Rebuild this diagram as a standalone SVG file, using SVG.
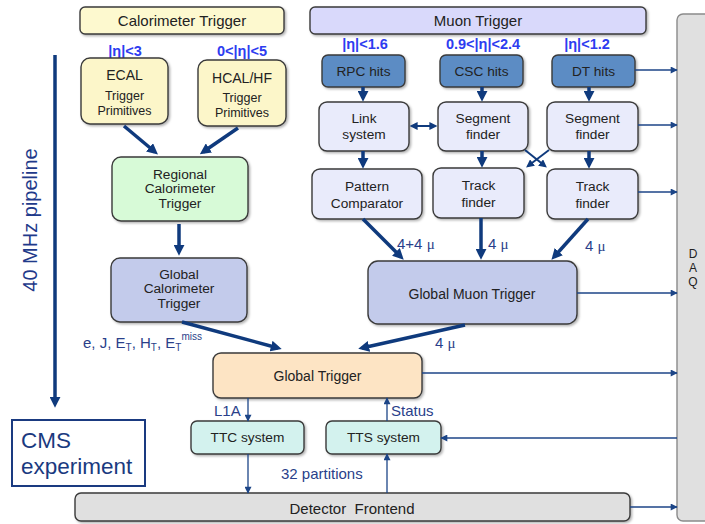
<svg xmlns="http://www.w3.org/2000/svg" width="705" height="524" viewBox="0 0 705 524">
<style>
  text { font-family: "Liberation Sans", Arial, sans-serif; fill: #222; }
  .box { stroke: #3a3a3a; stroke-width: 1.4; filter: url(#sh); }
  .t13 { font-size: 13.7px; text-anchor: middle; }
  .t12 { font-size: 12.5px; text-anchor: middle; }
  .t14 { font-size: 14px; text-anchor: middle; }
  .t15 { font-size: 15px; text-anchor: middle; }
  .eta { font-size: 14.5px; font-weight: bold; fill: #2d3cf0; text-anchor: middle; }
  .lbl { font-size: 15px; fill: #2a3f8a; }
  .mu { font-family: "Liberation Serif", serif; }
  .thick { stroke: #0f3a7d; stroke-width: 3.5; fill: none; marker-end: url(#ah); }
  .mid { stroke: #0f3a7d; stroke-width: 2; fill: none; marker-end: url(#am); }
  .thin { stroke: #1c4587; stroke-width: 1.3; fill: none; marker-end: url(#at); }
</style>
<defs>
  <filter id="sh" x="-10%" y="-10%" width="125%" height="135%">
    <feDropShadow dx="1.5" dy="1.5" stdDeviation="1" flood-color="#000" flood-opacity="0.3"/>
  </filter>
  <marker id="ah" viewBox="0 0 10 10" markerWidth="11" markerHeight="11" refX="6.5" refY="5" orient="auto" markerUnits="userSpaceOnUse">
    <path d="M0,0 L10,5 L0,10 z" fill="#0f3a7d"/>
  </marker>
  <marker id="am" viewBox="0 0 10 10" markerWidth="8" markerHeight="8" refX="7" refY="5" orient="auto-start-reverse" markerUnits="userSpaceOnUse">
    <path d="M0,0 L10,5 L0,10 z" fill="#0f3a7d"/>
  </marker>
  <marker id="at" viewBox="0 0 10 10" markerWidth="8" markerHeight="7" refX="9" refY="5" orient="auto" markerUnits="userSpaceOnUse">
    <path d="M0,0 L10,5 L0,10 z" fill="#1c4587"/>
  </marker>
</defs>

<g id="daq">
  <rect x="677" y="14" width="40" height="507" rx="6" fill="#e0e0e0" stroke="#8a8a8a" stroke-width="1.4"/>
  <text x="693" y="258" style="font-size:12px; text-anchor:middle">D</text>
  <text x="693" y="272" style="font-size:12px; text-anchor:middle">A</text>
  <text x="693" y="286" style="font-size:12px; text-anchor:middle">Q</text>
</g>

<g id="pipeline">
  <text transform="translate(37,220) rotate(-90)" style="font-size:20px; fill:#1f3a8a; text-anchor:middle">40 MHz pipeline</text>
</g>

<g id="cms">
  <rect x="12" y="420" width="133" height="66" fill="#fff" stroke="#1a3a80" stroke-width="2"/>
  <text x="21" y="448" style="font-size:22.5px; fill:#1a3a80">CMS</text>
  <text x="21" y="474" style="font-size:22.5px; fill:#1a3a80">experiment</text>
</g>

<g id="calo-title">
  <rect class="box" x="80" y="7" width="204" height="27" rx="5" fill="#fdf9cf"/>
  <text x="182" y="26" class="t15">Calorimeter Trigger</text>
</g>
<g id="muon-title">
  <rect class="box" x="310" y="7" width="336" height="27" rx="5" fill="#d9d9fb"/>
  <text x="478" y="26" class="t15">Muon Trigger</text>
</g>

<g id="eta-labels">
  <text x="125" y="56" class="eta">|η|&lt;3</text>
  <text x="242" y="56" class="eta">0&lt;|η|&lt;5</text>
  <text x="365" y="49" class="eta">|η|&lt;1.6</text>
  <text x="483" y="49" class="eta">0.9&lt;|η|&lt;2.4</text>
  <text x="587" y="49" class="eta">|η|&lt;1.2</text>
</g>

<g id="ecal">
  <rect class="box" x="81" y="58" width="87" height="66" rx="9" fill="#fcf6c9"/>
  <text x="124.5" y="80" class="t14">ECAL</text>
  <text x="124.5" y="100" class="t12">Trigger</text>
  <text x="124.5" y="115" class="t12">Primitives</text>
</g>
<g id="hcal">
  <rect class="box" x="198" y="60" width="88" height="66" rx="9" fill="#fcf6c9"/>
  <text x="242" y="83" class="t14">HCAL/HF</text>
  <text x="242" y="102" class="t12">Trigger</text>
  <text x="242" y="117" class="t12">Primitives</text>
</g>
<g id="rct">
  <rect class="box" x="112" y="157" width="136" height="64" rx="9" fill="#d7fad7"/>
  <text x="180" y="179" class="t13">Regional</text>
  <text x="180" y="193" class="t13">Calorimeter</text>
  <text x="180" y="208" class="t13">Trigger</text>
</g>
<g id="gct">
  <rect class="box" x="111" y="258" width="136" height="64" rx="9" fill="#c3cbeb"/>
  <text x="179" y="279" class="t13">Global</text>
  <text x="179" y="293" class="t13">Calorimeter</text>
  <text x="179" y="308" class="t13">Trigger</text>
</g>

<g id="rpc">
  <rect class="box" x="322" y="55" width="83" height="32" rx="6" fill="#5b8cc4"/>
  <text x="363.5" y="76" class="t13">RPC hits</text>
</g>
<g id="csc">
  <rect class="box" x="440" y="55" width="83" height="32" rx="6" fill="#5b8cc4"/>
  <text x="481.5" y="76" class="t13">CSC hits</text>
</g>
<g id="dt">
  <rect class="box" x="552" y="55" width="83" height="32" rx="6" fill="#5b8cc4"/>
  <text x="593.5" y="76" class="t13">DT hits</text>
</g>

<g id="link">
  <rect class="box" x="319" y="102" width="90" height="49" rx="8" fill="#e9ebfb"/>
  <text x="364" y="123" class="t13">Link</text>
  <text x="364" y="139" class="t13">system</text>
</g>
<g id="seg-csc">
  <rect class="box" x="438" y="102" width="90" height="49" rx="8" fill="#e9ebfb"/>
  <text x="483" y="123" class="t13">Segment</text>
  <text x="483" y="139" class="t13">finder</text>
</g>
<g id="seg-dt">
  <rect class="box" x="547" y="102" width="91" height="49" rx="8" fill="#e9ebfb"/>
  <text x="592.5" y="123" class="t13">Segment</text>
  <text x="592.5" y="139" class="t13">finder</text>
</g>

<g id="pattern">
  <rect class="box" x="312" y="169" width="110" height="50" rx="8" fill="#e9ebfb"/>
  <text x="367" y="191" class="t13">Pattern</text>
  <text x="367" y="208" class="t13">Comparator</text>
</g>
<g id="track-csc">
  <rect class="box" x="433" y="168" width="91" height="50" rx="8" fill="#e9ebfb"/>
  <text x="478.5" y="190" class="t13">Track</text>
  <text x="478.5" y="207" class="t13">finder</text>
</g>
<g id="track-dt">
  <rect class="box" x="547" y="169" width="91" height="50" rx="8" fill="#e9ebfb"/>
  <text x="592.5" y="191" class="t13">Track</text>
  <text x="592.5" y="208" class="t13">finder</text>
</g>

<g id="gmt">
  <rect class="box" x="368" y="261" width="209" height="63" rx="10" fill="#c3cbeb"/>
  <text x="472" y="299" class="t14">Global Muon Trigger</text>
</g>

<g id="gt">
  <rect class="box" x="213" y="353" width="209" height="45" rx="8" fill="#fde4c4"/>
  <text x="317.5" y="381" class="t14">Global Trigger</text>
</g>
<g id="ttc">
  <rect class="box" x="191" y="421" width="113" height="33" rx="6" fill="#d3f2ee"/>
  <text x="247.5" y="442" class="t13">TTC system</text>
</g>
<g id="tts">
  <rect class="box" x="326" y="421" width="115" height="33" rx="6" fill="#d3f2ee"/>
  <text x="383.5" y="442" class="t13">TTS system</text>
</g>
<g id="frontend">
  <rect class="box" x="75" y="493" width="555" height="28" rx="6" fill="#e0e0e0"/>
  <text x="352" y="514" class="t15" style="white-space:pre">Detector  Frontend</text>
</g>

<g id="labels">
  <text x="83" y="348" class="lbl">e, J, E<tspan dy="3" style="font-size:10px">T</tspan><tspan dy="-3">, H</tspan><tspan dy="3" style="font-size:10px">T</tspan><tspan dy="-3">, E</tspan><tspan dy="3" style="font-size:10px">T</tspan><tspan dy="-11" style="font-size:10px">miss</tspan></text>
  <text x="397" y="249" class="lbl">4+4 <tspan class="mu">μ</tspan></text>
  <text x="488" y="249" class="lbl">4 <tspan class="mu">μ</tspan></text>
  <text x="585" y="251" class="lbl">4 <tspan class="mu">μ</tspan></text>
  <text x="435" y="348" class="lbl">4 <tspan class="mu">μ</tspan></text>
  <text x="214" y="416" class="lbl">L1A</text>
  <text x="391" y="416" class="lbl">Status</text>
  <text x="281" y="479" class="lbl">32 partitions</text>
</g>

<g id="connectors">
  <path class="thick" d="M55,55 L55,404"/>
  <path class="thick" d="M124,126 L155,152"/>
  <path class="thick" d="M238,128 L203,152"/>
  <path class="thick" d="M179,224 L179,252"/>
  <path class="thick" d="M182,322 L278,348"/>
  <path class="thick" d="M363,87 L363,98"/>
  <path class="thick" d="M482,87 L482,98"/>
  <path class="thick" d="M589,87 L589,98"/>
  <path class="thick" d="M363,151 L363,165"/>
  <path class="thick" d="M482,151 L482,164"/>
  <path class="thick" d="M589,151 L589,165"/>
  <path class="mid" d="M525,150 L545,166"/>
  <path class="mid" d="M549,150 L528,166"/>
  <path class="mid" d="M412,126 L435,126" style="marker-start:url(#am)"/>
  <path class="thick" d="M363,219 L401,257"/>
  <path class="thick" d="M481,218 L481,256"/>
  <path class="thick" d="M588,219 L554,257"/>
  <path class="thick" d="M465,325 L362,348"/>

  <path class="thin" d="M635,70 L677,70"/>
  <path class="thin" d="M638,125 L677,125"/>
  <path class="thin" d="M638,192 L677,192"/>
  <path class="thin" d="M577,293 L677,293"/>
  <path class="thin" d="M422,373 L677,373"/>
  <path class="thin" d="M677,438 L441,438"/>
  <path class="thin" d="M630,507 L677,507"/>
  <path class="thin" d="M248,398 L248,421"/>
  <path class="thin" d="M387,421 L387,398"/>
  <path class="thin" d="M248,454 L248,493"/>
  <path class="thin" d="M387,493 L387,454"/>
</g>
</svg>
